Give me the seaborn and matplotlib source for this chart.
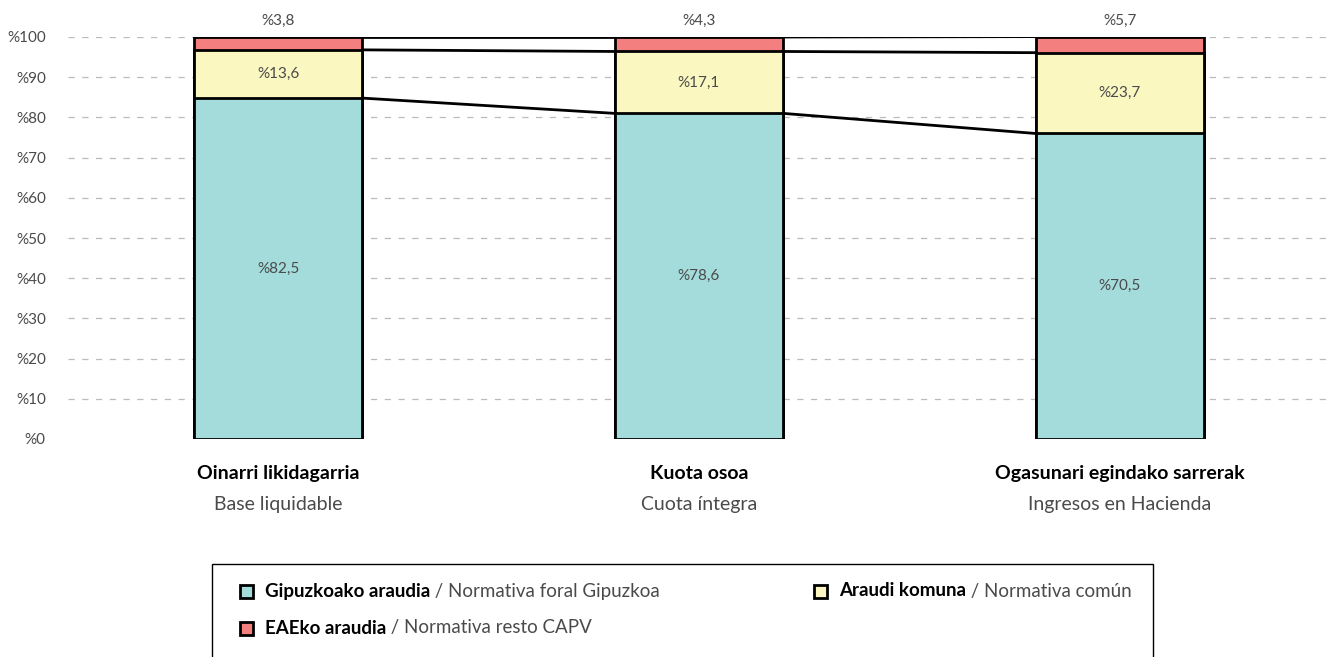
import pandas as pd
import seaborn as sns
import matplotlib.pyplot as plt
from matplotlib.patches import Rectangle

sns.set_style('white')
plt.rcParams['font.family'] = ['Lato', 'DejaVu Sans']

# datuak
kategoriak = ['Oinarri likidagarria', 'Kuota osoa', 'Ogasunari egindako sarrerak']
azpi_izenak = ['Base liquidable', 'Cuota íntegra', 'Ingresos en Hacienda']
gipuzkoa = [84.8, 81.0, 76.0]      # barraren altuera (irudian)
komuna = [12.0, 15.4, 20.1]
eae = [3.2, 3.6, 4.0]
gipuzkoa_lab = ['%82,5', '%78,6', '%70,5']
komuna_lab = ['%13,6', '%17,1', '%23,7']
eae_lab = ['%3,8', '%4,3', '%5,7']
yticks = [0, 10, 20, 30, 40, 50, 60, 70, 80, 90, 100]

col_gip = '#A4DCDC'
col_kom = '#FAF7C0'
col_eae = '#F47F7F'
grey = '#4A4A4A'

df = pd.DataFrame({'kat': kategoriak, 'gip': gipuzkoa, 'kom': komuna, 'eae': eae})
df['c1'] = df['gip']
df['c2'] = df['gip'] + df['kom']
df['c3'] = df['c2'] + df['eae']

W, H = 1326, 657
fig = plt.figure(figsize=(W / 100, H / 100), dpi=100)
ax = fig.add_axes([68 / W, 1 - 439 / H, (1330 - 68) / W, (439 - 37) / H])

for y in yticks[1:]:
    ax.axhline(y, color='#BBBBBB', lw=0.9, dashes=(5, 6), zorder=0)

# pilatutako barrak (goitik behera)
for col, c in [('c3', col_eae), ('c2', col_kom), ('c1', col_gip)]:
    sns.barplot(data=df, x='kat', y=col, color=c, width=0.4, edgecolor='black',
                linewidth=2, saturation=1, ax=ax, zorder=2)

# barren arteko lotura-lerroak
for i in range(len(kategoriak) - 1):
    for col in ['c1', 'c2', 'c3']:
        ax.plot([i + 0.2, i + 0.8], [df[col][i], df[col][i + 1]], color='black', lw=2, zorder=3)

for i in range(len(kategoriak)):
    ax.text(i, df['c1'][i] / 2, gipuzkoa_lab[i], ha='center', va='center', fontsize=11, color=grey)
    ax.text(i, (df['c1'][i] + df['c2'][i]) / 2, komuna_lab[i], ha='center', va='center', fontsize=11, color=grey)
    ax.text(i, df['c3'][i] + 2.2, eae_lab[i], ha='center', va='bottom', fontsize=11, color=grey, clip_on=False)

ax.set_xlim(-0.5, 2.5)
ax.set_ylim(0, 100)
ax.set_yticks(yticks)
ax.set_yticklabels(['%' + str(v) for v in yticks], fontsize=11, color=grey)
ax.tick_params(axis='y', length=0, pad=16)
ax.set_xticks([])
ax.set_xlabel('')
ax.set_ylabel('')
sns.despine(ax=ax, left=True, bottom=True)

for i in range(len(kategoriak)):
    ax.text(i, -8.7, kategoriak[i], ha='center', va='center', fontsize=14, color='black',
            fontweight='bold', clip_on=False)
    ax.text(i, -16.2, azpi_izenak[i], ha='center', va='center', fontsize=14, color=grey, clip_on=False)

# legenda
fig.patches.append(Rectangle((212 / W, -0.05), (1153 - 212) / W, 1 - 564 / H + 0.05,
                             transform=fig.transFigure, fill=False, edgecolor='black', lw=1))
legend_items = [
    (col_gip, 'Gipuzkoako araudia', ' / Normativa foral Gipuzkoa', 240, 591),
    (col_kom, 'Araudi komuna', ' / Normativa común', 814, 591),
    (col_eae, 'EAEko araudia', ' / Normativa resto CAPV', 240, 628),
]
renderer = fig.canvas.get_renderer()
for c, bold, plain, px, py in legend_items:
    fig.patches.append(Rectangle((px / W, 1 - (py + 7) / H), 13 / W, 13 / H,
                                 transform=fig.transFigure, facecolor=c, edgecolor='black', lw=2))
    t = fig.text((px + 25) / W, 1 - py / H, bold, fontsize=13.5, fontweight='bold',
                 va='center', ha='left', color='black')
    bb = t.get_window_extent(renderer)
    fig.text(bb.x1 / W, 1 - py / H, plain, fontsize=13.5, va='center', ha='left', color=grey)

fig.savefig('out.png', dpi=100)
